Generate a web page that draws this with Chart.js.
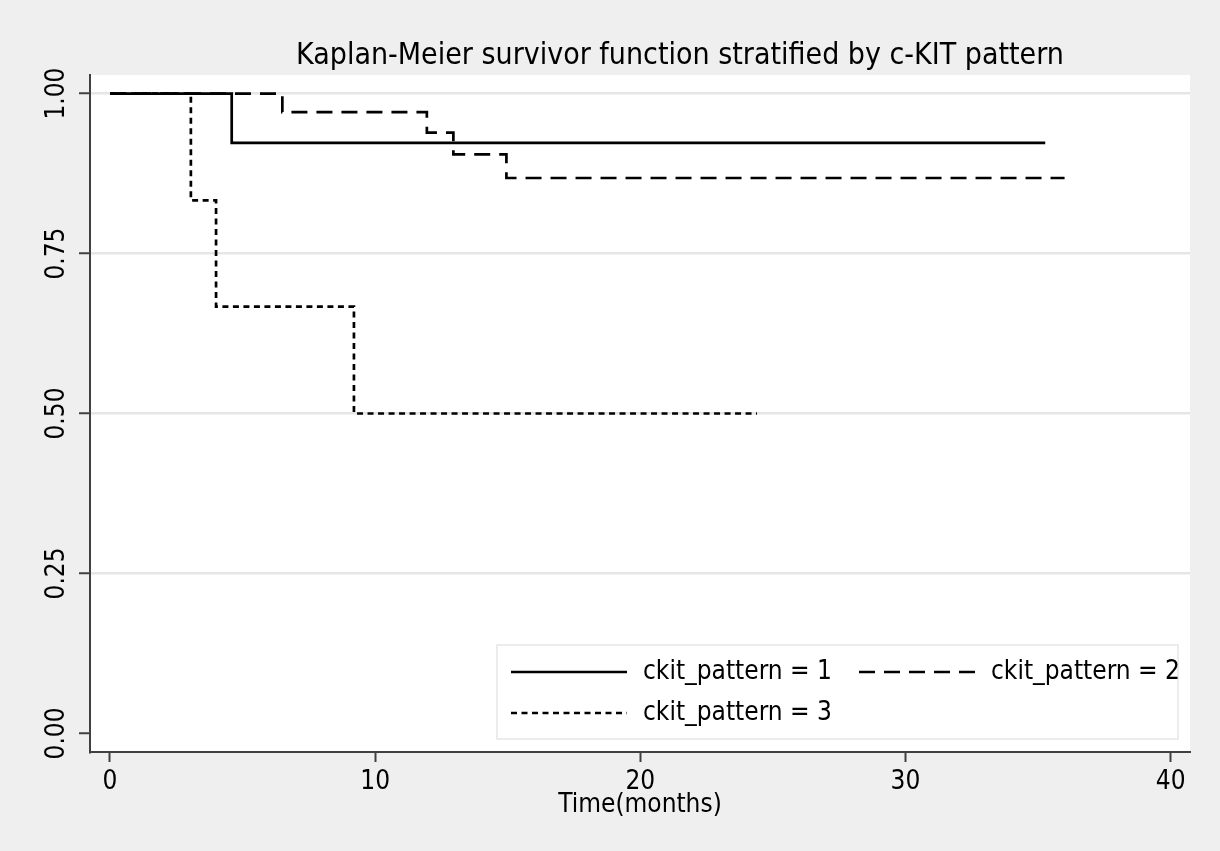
<!DOCTYPE html>
<html>
<head>
<meta charset="utf-8">
<script src="https://cdn.jsdelivr.net/npm/chart.js@4.4.1/dist/chart.umd.min.js"></script>
<style>
  html, body { margin:0; padding:0; background:#efefef; }
</style>
</head>
<body>
<canvas id="km" width="1220" height="851"></canvas>
<script>
// ── Data ───────────────────────────────────────────────────────────
const titleText  = 'Kaplan-Meier survivor function stratified by c-KIT pattern';
const xTitle     = 'Time(months)';
const groupNames = ['ckit_pattern = 1', 'ckit_pattern = 2', 'ckit_pattern = 3'];

const time1 = [0, 4.59, 35.27];
const surv1 = [1, 0.923, 0.923];

const time2 = [0, 6.5, 11.95, 12.95, 14.95, 36.0];
const surv2 = [1, 0.971, 0.939, 0.905, 0.868, 0.868];

const time3 = [0, 3.05, 4.0, 9.2, 24.4];
const surv3 = [1, 0.833, 0.667, 0.5, 0.5];

const xTicks      = [0, 10, 20, 30, 40];
const yTicks      = [0, 0.25, 0.5, 0.75, 1];
const yTickLabels = ['0.00', '0.25', '0.50', '0.75', '1.00'];

// ── Styling ────────────────────────────────────────────────────────
const FONT   = "'DejaVu Sans Condensed', 'DejaVu Sans', sans-serif";
const AXIS   = '#404040';
const GRID   = '#e6e6e6';
const dashes = [[], [16, 9], [6, 4.5]];

const pts = (t, s) => t.map((x, i) => ({x, y: s[i]}));
const series = [pts(time1, surv1), pts(time2, surv2), pts(time3, surv3)];

// plot area white, outer area grey, title on top
const bgPlugin = {
  id: 'bg',
  beforeDraw(chart) {
    const {ctx, chartArea: a} = chart;
    ctx.save();
    ctx.fillStyle = '#efefef';
    ctx.fillRect(0, 0, chart.width, chart.height);
    ctx.fillStyle = '#ffffff';
    ctx.fillRect(a.left, a.top, a.right - a.left, a.bottom - a.top);
    ctx.fillStyle = '#000';
    ctx.font = '30px ' + FONT;
    ctx.textAlign = 'center';
    ctx.textBaseline = 'alphabetic';
    ctx.fillText(titleText, 680, 64);
    ctx.restore();
  }
};

// Stata-style legend box inside the plot, 2 columns
const legendPlugin = {
  id: 'kmLegend',
  afterDraw(chart) {
    const ctx = chart.ctx;
    const box = {x: 497, y: 645, w: 681, h: 94};
    ctx.save();
    ctx.fillStyle = '#ffffff';
    ctx.fillRect(box.x, box.y, box.w, box.h);
    ctx.strokeStyle = '#e6e6e6';
    ctx.lineWidth = 1.5;
    ctx.strokeRect(box.x, box.y, box.w, box.h);
    const slots = [{x: 511, y: 672}, {x: 859, y: 672}, {x: 511, y: 713}];
    ctx.font = '26px ' + FONT;
    ctx.textBaseline = 'middle';
    ctx.fillStyle = '#000';
    chart.data.datasets.forEach((ds, i) => {
      const s = slots[i];
      ctx.beginPath();
      ctx.setLineDash(ds.borderDash || []);
      ctx.lineWidth = ds.borderWidth;
      ctx.strokeStyle = ds.borderColor;
      ctx.moveTo(s.x, s.y);
      ctx.lineTo(s.x + 116, s.y);
      ctx.stroke();
      ctx.setLineDash([]);
      ctx.fillText(ds.label, s.x + 132, s.y);
    });
    ctx.restore();
  }
};

new Chart(document.getElementById('km'), {
  type: 'line',
  data: {
    datasets: series.map((d, i) => ({
      label: groupNames[i],
      data: d,
      stepped: true,
      borderColor: '#000',
      borderWidth: 2.7,
      borderDash: dashes[i],
      pointRadius: 0,
      fill: false
    }))
  },
  options: {
    responsive: false,
    devicePixelRatio: 1,
    animation: false,
    layout: {padding: {left: 0, right: 30, top: 75, bottom: 0}},
    plugins: {
      legend: {display: false},
      tooltip: {enabled: false},
      title: {display: false}
    },
    scales: {
      x: {
        type: 'linear',
        min: -0.754,
        max: 40.73,
        afterBuildTicks: s => { s.ticks = xTicks.map(v => ({value: v})); },
        afterFit: s => { s.height = 99; },
        border: {display: true, color: AXIS, width: 2},
        grid: {drawOnChartArea: false, drawTicks: true, tickLength: 10, tickColor: AXIS, tickWidth: 2},
        ticks: {color: '#000', font: {family: FONT, size: 26}, padding: 5, maxRotation: 0},
        title: {
          display: true, text: xTitle, color: '#000',
          font: {family: FONT, size: 26}, padding: {top: 0, bottom: 30}
        }
      },
      y: {
        type: 'linear',
        min: -0.029,
        max: 1.029,
        afterBuildTicks: s => { s.ticks = yTicks.map(v => ({value: v})); },
        afterFit: s => { s.width = 90; },
        border: {display: true, color: AXIS, width: 2},
        grid: {
          color: c => (c.tick && c.tick.value === 0 ? 'rgba(0,0,0,0)' : GRID),
          lineWidth: 2.5,
          drawTicks: true, tickLength: 11, tickColor: AXIS, tickWidth: 2
        },
        ticks: {
          color: '#000', font: {family: FONT, size: 26},
          minRotation: 90, maxRotation: 90, crossAlign: 'center', padding: -4,
          callback: (v) => yTickLabels[yTicks.indexOf(v)]
        }
      }
    }
  },
  plugins: [bgPlugin, legendPlugin]
});
</script>
</body>
</html>
